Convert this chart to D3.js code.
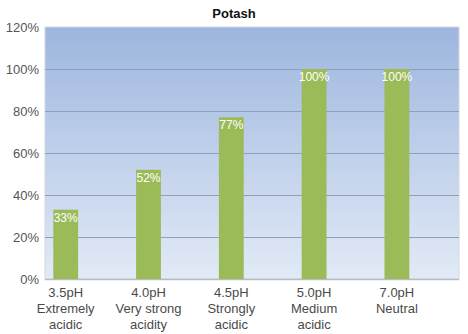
<!DOCTYPE html>
<html><head><meta charset="utf-8">
<script src="https://cdn.jsdelivr.net/npm/d3@7"></script>
<style>body{margin:0;background:#fff;}svg{display:block;font-family:"Liberation Sans",Arial,sans-serif;}</style>
</head><body>
<script>
const title = "Potash";
const categories = ["3.5pH|Extremely|acidic","4.0pH|Very strong|acidity","4.5pH|Strongly|acidic","5.0pH|Medium|acidic","7.0pH|Neutral"];
const values = [33, 52, 77, 100, 100];
const yTicks = [0, 20, 40, 60, 80, 100, 120];

const W = 468, H = 334;
const m = {left: 45, right: 9, top: 27, bottom: 55};
const svg = d3.select("body").append("svg").attr("width", W).attr("height", H);

const x = d3.scaleBand().domain(categories).range([m.left, W - m.right]);
const y = d3.scaleLinear().domain([0, 120]).range([H - m.bottom, m.top]);

const defs = svg.append("defs");
const g = defs.append("linearGradient").attr("id","bg").attr("x1",0).attr("y1",0).attr("x2",0).attr("y2",1);
g.append("stop").attr("offset","0%").attr("stop-color","#9db6df");
g.append("stop").attr("offset","100%").attr("stop-color","#e2eaf6");

svg.append("rect").attr("x", m.left).attr("y", m.top)
  .attr("width", W - m.right - m.left).attr("height", H - m.bottom - m.top)
  .attr("fill","url(#bg)").attr("stroke","#d4d8de").attr("stroke-width",1);

// gridlines
svg.append("g").selectAll("line").data(yTicks.filter(t => t > 0 && t < 120)).join("line")
  .attr("x1", m.left).attr("x2", W - m.right)
  .attr("y1", d => Math.round(y(d)) + 0.5).attr("y2", d => Math.round(y(d)) + 0.5)
  .attr("stroke","#8c9fbb").attr("stroke-width",1.2);

// y axis labels
svg.append("g").selectAll("text").data(yTicks).join("text")
  .attr("x", m.left - 6).attr("y", d => y(d)).attr("dy","0.35em")
  .attr("text-anchor","end").attr("fill","#555").attr("font-size",13)
  .text(d => d + "%");

// bottom axis line
svg.append("line").attr("x1", m.left).attr("x2", W - m.right)
  .attr("y1", y(0) + 0.5).attr("y2", y(0) + 0.5).attr("stroke","#b8bcc2").attr("stroke-width",1.5);

const step = x.bandwidth();
const bx = d => x(d) + step * 0.1;
const bw = step * 0.3;

svg.append("g").selectAll("rect").data(categories).join("rect")
  .attr("x", d => bx(d)).attr("width", bw)
  .attr("y", (d,i) => y(values[i])).attr("height", (d,i) => y(0) - y(values[i]))
  .attr("fill","#9bbb59");

svg.append("g").selectAll("text").data(categories).join("text")
  .attr("x", d => bx(d) + bw/2).attr("y", (d,i) => y(values[i]) + 12)
  .attr("text-anchor","middle").attr("fill","#fff").attr("font-size",12)
  .text((d,i) => values[i] + "%");

// x labels
const xl = svg.append("g").selectAll("text").data(categories).join("text")
  .attr("x", d => bx(d) + bw/2).attr("y", y(0) + 18)
  .attr("text-anchor","middle").attr("fill","#4a4a4a").attr("font-size",13);
xl.selectAll("tspan").data(d => d.split("|")).join("tspan")
  .attr("x", function(){ return d3.select(this.parentNode).attr("x"); })
  .attr("dy", (d,i) => i === 0 ? 0 : 16).text(d => d);

svg.append("text").attr("x", W/2).attr("y", 18).attr("text-anchor","middle")
  .attr("font-weight","bold").attr("font-size",13).attr("fill","#111").text(title);
</script>
</body></html>
